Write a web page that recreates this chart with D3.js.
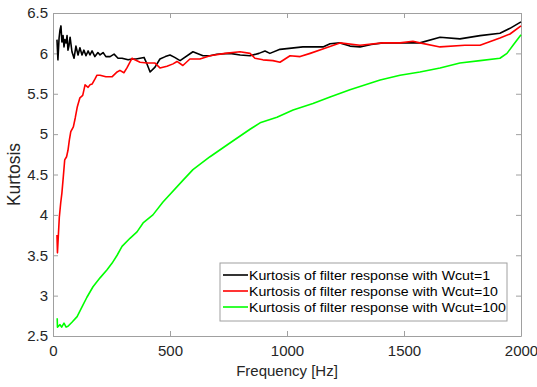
<!DOCTYPE html>
<html>
<head>
  <meta charset="utf-8">
  <title>Kurtosis vs frequency</title>
  <style>
    body { margin: 0; background: #fff; }
    svg { display: block; font-family: "Liberation Sans", Arial, sans-serif; }
    .axis path, .axis line { stroke: #a0a0a0; }
    .axis text { fill: #262626; font-size: 15px; }
  </style>
</head>
<body>
  <svg id="chart" width="537" height="387"></svg>
  <script src="https://d3js.org/d3.v7.min.js"></script>
  <script>
    const xTicks = [0, 500, 1000, 1500, 2000];
    const yTicks = [2.5, 3, 3.5, 4, 4.5, 5, 5.5, 6, 6.5];
    const seriesNames = [
      "Kurtosis of filter response with Wcut=1",
      "Kurtosis of filter response with Wcut=10",
      "Kurtosis of filter response with Wcut=100"
    ];
    const seriesColors = ["#000000", "#ff0000", "#00ff00"];

    const wcut1 = [
      [17, 6.17], [21, 5.92], [26, 6.19], [30, 6.29], [34, 6.34], [38, 6.14], [43, 6.22],
      [47, 6.08], [51, 6.17], [56, 6.13], [60, 6.22], [64, 6.04], [68, 6.09], [73, 6.20],
      [81, 6.02], [90, 5.94], [98, 6.09], [107, 5.98], [115, 6.07], [124, 5.98], [132, 6.04],
      [141, 5.97], [150, 6.03], [158, 5.98], [167, 6.03], [179, 5.96], [192, 6.01], [201, 5.98],
      [214, 6.01], [226, 5.96], [244, 5.96], [261, 5.99], [278, 5.94], [295, 5.94], [321, 5.92],
      [338, 5.93], [355, 5.93], [372, 5.94], [389, 5.95], [400, 5.88], [415, 5.77], [436, 5.83],
      [457, 5.93], [480, 5.96], [500, 5.98], [520, 5.95], [543, 5.91], [598, 6.02], [641, 5.97],
      [671, 5.97], [700, 5.99], [756, 6.0], [800, 5.98], [842, 5.97], [880, 6.0], [906, 6.03],
      [927, 6.0], [970, 6.05], [1068, 6.08], [1154, 6.08], [1184, 6.12], [1226, 6.13],
      [1269, 6.09], [1312, 6.08], [1360, 6.11], [1410, 6.13], [1483, 6.13], [1568, 6.13],
      [1654, 6.20], [1739, 6.18], [1825, 6.22], [1910, 6.25], [1953, 6.31], [2000, 6.39]
    ];

    const wcut10 = [
      [17, 3.75], [19, 3.53], [27, 3.97], [33, 4.15], [38, 4.27], [44, 4.47], [50, 4.68],
      [58, 4.72], [64, 4.80], [70, 4.93], [76, 5.03], [87, 5.09], [95, 5.20], [104, 5.34],
      [115, 5.45], [127, 5.48], [137, 5.61], [150, 5.58], [158, 5.61], [167, 5.62], [179, 5.68],
      [188, 5.73], [201, 5.73], [226, 5.71], [252, 5.71], [274, 5.77], [286, 5.79], [303, 5.76],
      [316, 5.82], [338, 5.94], [350, 5.92], [372, 5.89], [402, 5.88], [436, 5.88], [457, 5.82],
      [487, 5.84], [513, 5.87], [530, 5.90], [555, 5.85], [585, 5.93], [628, 5.93], [671, 5.97],
      [735, 6.0], [799, 6.02], [842, 6.0], [863, 5.94], [897, 5.92], [940, 5.91], [970, 5.89],
      [1013, 5.97], [1056, 5.96], [1099, 6.0], [1159, 6.06], [1226, 6.13], [1312, 6.10],
      [1410, 6.13], [1483, 6.13], [1538, 6.15], [1568, 6.13], [1654, 6.08], [1760, 6.10],
      [1825, 6.10], [1910, 6.19], [1953, 6.24], [2000, 6.34]
    ];

    const wcut100 = [
      [18, 2.72], [19, 2.61], [30, 2.64], [37, 2.61], [47, 2.66], [56, 2.61], [64, 2.62],
      [81, 2.67], [103, 2.74], [124, 2.86], [145, 2.98], [171, 3.11], [201, 3.22], [231, 3.32],
      [252, 3.40], [274, 3.50], [295, 3.61], [329, 3.71], [359, 3.79], [385, 3.90], [427, 4.0],
      [470, 4.16], [556, 4.43], [598, 4.56], [671, 4.72], [756, 4.89], [842, 5.06], [885, 5.14],
      [957, 5.21], [1026, 5.30], [1111, 5.38], [1184, 5.46], [1269, 5.55], [1355, 5.63],
      [1398, 5.67], [1483, 5.73], [1568, 5.77], [1654, 5.82], [1739, 5.88], [1825, 5.91],
      [1910, 5.94], [1940, 6.0], [1966, 6.10], [2000, 6.23]
    ];

    const allSeries = [wcut1, wcut10, wcut100];

    const svg = d3.select("#chart");
    const mLeft = 53, mTop = 13, mRight = 521, mBottom = 336;

    const x = d3.scaleLinear().domain([0, 2000]).range([mLeft, mRight]);
    const y = d3.scaleLinear().domain([2.5, 6.5]).range([mBottom, mTop]);

    svg.append("rect")
      .attr("x", 0).attr("y", 0).attr("width", 537).attr("height", 387)
      .attr("fill", "#fff");

    // axes, ticks pointing inwards like matlab
    svg.append("g").attr("class", "axis")
      .attr("transform", `translate(0,${mBottom})`)
      .call(d3.axisBottom(x).tickValues(xTicks).tickSizeInner(-5).tickSizeOuter(0).tickPadding(9).tickFormat(d3.format("")));
    svg.append("g").attr("class", "axis")
      .attr("transform", `translate(0,${mTop})`)
      .call(d3.axisTop(x).tickValues(xTicks).tickSizeInner(-5).tickSizeOuter(0).tickFormat(""));
    svg.append("g").attr("class", "axis")
      .attr("transform", `translate(${mLeft},0)`)
      .call(d3.axisLeft(y).tickValues(yTicks).tickSizeInner(-5).tickSizeOuter(0).tickPadding(5).tickFormat(d3.format("")));
    svg.append("g").attr("class", "axis")
      .attr("transform", `translate(${mRight},0)`)
      .call(d3.axisRight(y).tickValues(yTicks).tickSizeInner(-5).tickSizeOuter(0).tickFormat(""));

    svg.selectAll(".axis .domain").attr("stroke", "#a0a0a0");

    const line = d3.line().x(d => x(d[0])).y(d => y(d[1]));

    svg.append("g").selectAll("path")
      .data(allSeries)
      .join("path")
      .attr("fill", "none")
      .attr("stroke", (d, i) => seriesColors[i])
      .attr("stroke-width", 1.6)
      .attr("stroke-linejoin", "round")
      .attr("d", line);

    // labels
    svg.append("text")
      .attr("x", (mLeft + mRight) / 2).attr("y", 376)
      .attr("text-anchor", "middle")
      .attr("font-size", 15).attr("fill", "#262626")
      .text("Frequency [Hz]");
    svg.append("text")
      .attr("transform", `translate(20,${(mTop + mBottom) / 2}) rotate(-90)`)
      .attr("text-anchor", "middle")
      .attr("font-size", 17.5).attr("fill", "#262626")
      .text("Kurtosis");

    // legend
    const lg = svg.append("g").attr("transform", "translate(220,263)");
    lg.append("rect")
      .attr("width", 287).attr("height", 58)
      .attr("fill", "#fff").attr("stroke", "#a0a0a0");
    seriesNames.forEach((name, i) => {
      const yy = 12 + i * 16;
      lg.append("line")
        .attr("x1", 3).attr("x2", 28).attr("y1", yy).attr("y2", yy)
        .attr("stroke", seriesColors[i]).attr("stroke-width", 1.6);
      lg.append("text")
        .attr("transform", `translate(29,${yy}) scale(1.09,1)`)
        .attr("dy", "0.35em")
        .attr("font-size", 13).attr("fill", "#000")
        .text(name);
    });
  </script>
</body>
</html>
